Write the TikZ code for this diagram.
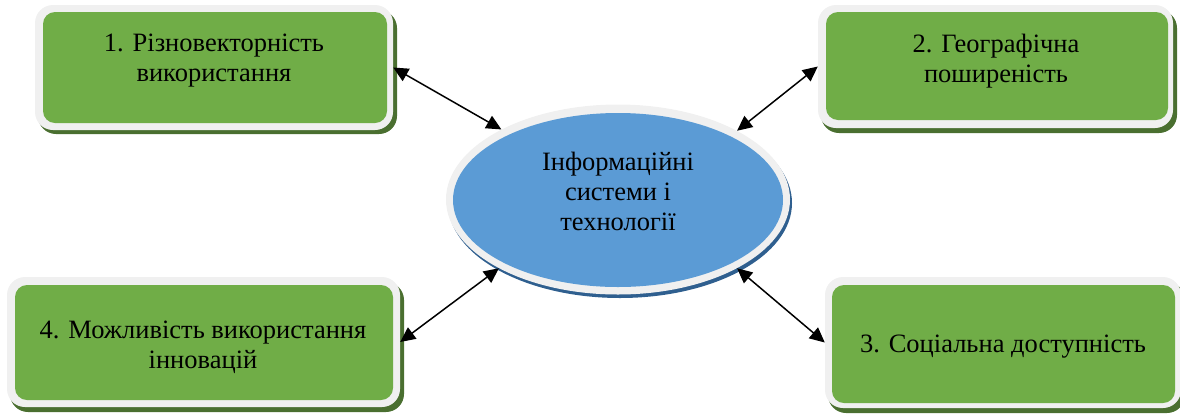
\documentclass[tikz,border=0pt]{standalone}
\usepackage{fontspec}
\setmainfont{Liberation Serif}
\usetikzlibrary{shapes.geometric,arrows.meta}
\definecolor{boxgreen}{HTML}{70AD47}
\definecolor{rimgray}{HTML}{F0F0F0}
\definecolor{shadegreen}{HTML}{4A6F30}
\definecolor{ellblue}{HTML}{5B9BD5}
\definecolor{shadeblue}{HTML}{2F5F8F}
\begin{document}
\begin{tikzpicture}[x=1pt,y=-1pt,
  rim/.style={draw=none, fill=rimgray, rounded corners=18pt, inner sep=0pt},
  face/.style={draw=none, fill=boxgreen, rounded corners=12pt, inner sep=0pt},
  shade/.style={fill=shadegreen, rounded corners=18pt},
  lbl/.style={align=center, font=\fontsize{26.5}{30}\selectfont, inner sep=0pt},
  arr/.style={{Triangle[length=15pt,width=14pt]}-{Triangle[length=15pt,width=14pt]}, line width=1.5pt}]
\useasboundingbox (0,0) rectangle (1180,416);
% box 1
\fill[shade] (38,10) rectangle (397,134);
\node[rim, minimum width=358pt, minimum height=125pt] (box1) at (214,67.5) {};
\node[face, minimum width=344pt, minimum height=111pt] (face1) at (215,67.5) {};
\node[lbl] (t1) at (214,61) {1. Різновекторність\\використання};
% box 2
\fill[shade] (821,10) rectangle (1177,133);
\node[rim, minimum width=355pt, minimum height=123pt] (box2) at (995.5,66.5) {};
\node[face, minimum width=342pt, minimum height=108pt] (face2) at (997,66) {};
\node[lbl] (t2) at (996,61) {2. Географічна\\поширеність};
% box 4
\fill[shade] (10,282) rectangle (404,412);
\node[rim, minimum width=393pt, minimum height=130pt] (box4) at (203.5,342) {};
\node[face, minimum width=378pt, minimum height=115pt] (face4) at (204,342.5) {};
\node[lbl] (t4) at (203,347) {4. Можливість використання\\інновацій};
% box 3
\fill[shade] (828,282) rectangle (1185,413);
\node[rim, minimum width=356pt, minimum height=131pt] (box3) at (1003,342.5) {};
\node[face, minimum width=343pt, minimum height=118pt] (face3) at (1003.5,344) {};
\node[lbl] (t3) at (1003,347) {3. Соціальна доступність};
% ellipse
\fill[shadeblue] (620,203) ellipse [x radius=172, y radius=95];
\node[ellipse, fill=rimgray, minimum width=344pt, minimum height=190pt, inner sep=0pt] (ell) at (618,199.5) {};
\node[ellipse, fill=ellblue, minimum width=330pt, minimum height=174pt, inner sep=0pt] (ellface) at (618,200) {};
\node[lbl] (tc) at (618,191) {Інформаційні\\системи і\\технології};
% arrows
\draw[arr] (box1.east) -- (ell.149);
\draw[arr] (box2.west) -- (ell.30);
\draw[arr] (box4.east) -- (ell.210);
\draw[arr] (box3.west) -- (ell.330);
\end{tikzpicture}
\end{document}
